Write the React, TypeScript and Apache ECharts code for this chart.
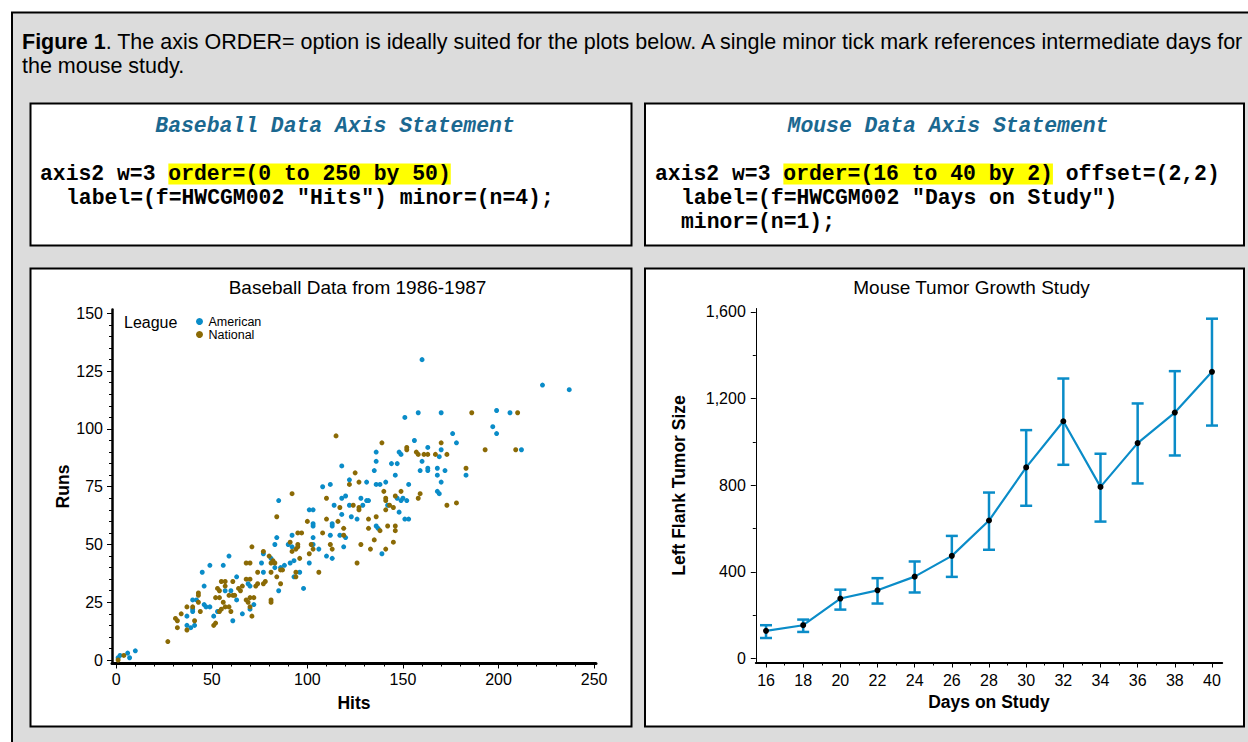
import React, { useEffect, useRef } from "react";
import * as echarts from "echarts";

// ---------- Baseball data (Hits, Runs) ----------
const americanLeague: [number, number][] = [
  [160,130],[223,119],[237,117],[151,105],[158,107],[170,107],[199,108],[206,107],[197,101],[199,98],
  [176,98],[178,94],[212,91],[156,95],[136,90],[148,90],[149,89],[163,92],[170,91],[169,88],
  [136,86],[144,85],[147,85],[160,86],[135,82],[159,82],[163,83],[163,82],[168,83],[172,82],
  [146,80],[168,80],[183,80],[136,76],[138,76],[141,77],[153,76],[170,77],[168,73],[169,72],
  [150,70],[147,70],
  [85,69],[108,75],[112,76],[118,84],[122,78],[131,77],[101,65],[103,65],[114,67],[118,70],
  [120,71],[122,67],[128,70],[129,67],[131,69],[132,69],[118,63],[123,62],[126,61],[103,59],
  [103,58],[113,59],[113,58],[84,53],[83,50],[92,54],[90,50],[92,49],[103,53],[106,48],
  [112,54],[117,54],[120,53],[119,49],[103,50],[110,45],[113,44],[101,42],[91,42],[93,43],
  [86,40],[88,41],[83,40],[77,46],[76,42],[81,44],[77,38],[96,38],[136,58],[137,57],
  [148,64],[151,61],[153,61],[142,67],[149,69],[152,69],[139,46],
  [1,1],[2,2],[6,3],[7,1],[10,4],[59,45],[49,41],[56,41],[45,38],[46,32],
  [63,36],[40,26],[42,26],[46,24],[47,23],[49,23],[40,21],[40,22],[37,19],[51,19],
  [37,15],[39,14],[41,15],[53,21],[57,30],[60,30],[63,26],[61,17],[66,20],[70,22],
  [72,24],[70,32],[69,33],[93,36],[98,31],[85,30],
];

const nationalLeague: [number, number][] = [
  [139,94],[152,92],[152,91],[157,90],[158,89],[161,89],[163,89],[167,89],[170,94],[173,89],
  [186,107],[210,107],[193,91],[209,91],[183,83],[140,73],[146,71],[149,73],[159,72],[141,70],
  [158,70],
  [115,97],[92,72],[125,81],[122,76],[127,77],[110,70],[84,62],[117,66],[124,67],[127,66],
  [127,65],[110,61],[116,60],[100,60],[132,61],[136,62],[132,57],[119,57],[108,55],[119,54],
  [95,55],[97,55],[91,51],[95,50],[94,48],[95,49],[92,47],[96,44],[102,50],[103,48],
  [101,46],[112,50],[113,48],[128,50],[133,48],[135,52],[138,56],[142,58],[146,58],[146,56],
  [145,51],[141,48],[126,42],[106,38],[77,47],[80,45],[82,43],[81,42],[83,42],[86,39],
  [87,39],[71,49],[74,38],[81,38],[94,38],[143,67],[145,66],[141,65],[141,69],[173,67],
  [178,68],
  [1,0],[4,2],[27,8],[31,18],[32,17],[32,14],[37,13],[34,20],[37,23],[40,23],
  [41,17],[43,29],[43,28],[43,25],[44,21],[51,15],[52,16],[54,21],[55,22],[52,27],
  [54,27],[56,25],[57,23],[53,31],[54,30],[55,34],[57,34],[61,34],[59,28],[59,23],
  [64,31],[65,30],[66,32],[61,28],[62,28],[68,26],[70,27],[72,27],[69,25],[70,23],
  [71,19],[60,21],[57,32],[68,35],[70,35],[73,32],[74,33],[77,33],[78,34],[81,26],
  [81,25],[86,33],[94,36],[68,42],[70,42],[84,36],
];

const hitsTicks = [0, 50, 100, 150, 200, 250];
const hitsMinorTicks = [10,20,30,40,60,70,80,90,110,120,130,140,160,170,180,190,210,220,230,240];
const runsTicks = [0, 25, 50, 75, 100, 125, 150];
const runsMinorTicks = [5,10,15,20,30,35,40,45,55,60,65,70,80,85,90,95,105,110,115,120,130,135,140,145];

// ---------- Mouse tumor data ----------
const studyDays = [16, 18, 20, 22, 24, 26, 28, 30, 32, 34, 36, 38, 40];
const tumorMean = [128, 154, 277, 315, 378, 474, 637, 882, 1095, 792, 994, 1135, 1323];
const tumorLower = [95, 123, 226, 254, 305, 377, 502, 705, 894, 632, 808, 937, 1075];
const tumorUpper = [154, 180, 318, 371, 448, 566, 766, 1054, 1292, 945, 1177, 1326, 1568];

const dayTicks = [16, 18, 20, 22, 24, 26, 28, 30, 32, 34, 36, 38, 40];
const dayMinorTicks = [17, 19, 21, 23, 25, 27, 29, 31, 33, 35, 37, 39];
const sizeTicks = [0, 400, 800, 1200, 1600];
const sizeMinorTicks = [200, 600, 1000, 1400];

const BLUE = "#0a8cc8";
const BROWN = "#8b6a05";
const SANS = "'Liberation Sans', Arial, Helvetica, sans-serif";
const MONO = "'Liberation Mono', 'Courier New', monospace";
const CODE_SIZE = 21.4;
const CAPTION_SIZE = 21.5;
const TEAL = "#1b6890";

function codeLine(x: number, y: number, parts: { t: string; hl?: boolean }[]) {
  const text = parts.map((p) => (p.hl ? `{h|${p.t}}` : `{n|${p.t}}`)).join("");
  const base = { fontFamily: MONO, fontSize: CODE_SIZE, fontWeight: "bold", fill: "#000", lineHeight: 22 };
  return {
    type: "text",
    x,
    y,
    z: 5,
    style: {
      text,
      ...base,
      verticalAlign: "middle",
      rich: {
        n: { ...base },
        h: { ...base, backgroundColor: "#ffff00" },
      },
    },
  };
}

function rectBox(x: number, y: number, w: number, h: number, fill: string) {
  return {
    type: "rect",
    z: -1,
    shape: { x, y, width: w, height: h },
    style: { fill, stroke: "#000", lineWidth: 2 },
  };
}

export default function App() {
  const ref = useRef<HTMLDivElement>(null);

  useEffect(() => {
    if (!ref.current) return;
    const chart = echarts.init(ref.current, undefined, { renderer: "svg" });

    const axisLabelStyle = { fontFamily: SANS, fontSize: 16, color: "#000" };
    const nameStyle = { fontFamily: SANS, fontSize: 17.5, fontWeight: "bold", color: "#000" };

    const option: any = {
      animation: false,
      backgroundColor: "#fff",
      title: [
        {
          text: "Baseball Data from 1986-1987",
          left: 357.5,
          top: 278,
          textAlign: "center",
          padding: 0,
          textStyle: { fontFamily: SANS, fontSize: 19, fontWeight: "normal", color: "#000" },
        },
        {
          text: "Mouse Tumor Growth Study",
          left: 971.5,
          top: 278,
          textAlign: "center",
          padding: 0,
          textStyle: { fontFamily: SANS, fontSize: 19, fontWeight: "normal", color: "#000" },
        },
      ],
      legend: {
        data: ["American", "National"],
        orient: "vertical",
        left: 196,
        top: 315,
        padding: 0,
        itemGap: 0,
        itemWidth: 8,
        itemHeight: 7,
        itemTextGap: 3,
        icon: "circle",
        selectedMode: false,
        textStyle: { fontFamily: SANS, fontSize: 12.5, lineHeight: 12, color: "#000" },
      },
      grid: [
        { left: 112, top: 309.5, width: 484, height: 354, containLabel: false },
        { left: 755.8, top: 308.5, width: 466.4, height: 354, containLabel: false },
      ],
      xAxis: [
        {
          gridIndex: 0,
          type: "value",
          position: "bottom",
          min: -2.2,
          max: 251,
          name: "Hits",
          nameLocation: "middle",
          nameGap: 30.5,
          nameTextStyle: nameStyle,
          axisLine: { onZero: false, lineStyle: { color: "#000", width: 3 } },
          axisTick: { customValues: hitsTicks, length: 5, lineStyle: { color: "#000", width: 1 } },
          axisLabel: { customValues: hitsTicks, margin: 8, ...axisLabelStyle },
          splitLine: { show: false },
        },
        {
          gridIndex: 0,
          type: "value",
          position: "bottom",
          min: -2.2,
          max: 251,
          axisLine: { show: false, onZero: false },
          axisTick: { customValues: hitsMinorTicks, length: 3, lineStyle: { color: "#000", width: 1 } },
          axisLabel: { show: false },
          splitLine: { show: false },
        },
        {
          gridIndex: 1,
          type: "value",
          position: "bottom",
          min: 15.45,
          max: 40.55,
          name: "Days on Study",
          nameLocation: "middle",
          nameGap: 30.5,
          nameTextStyle: nameStyle,
          axisLine: { onZero: false, lineStyle: { color: "#000", width: 2 } },
          axisTick: { customValues: dayTicks, length: 5, lineStyle: { color: "#000", width: 1 } },
          axisLabel: { customValues: dayTicks, margin: 10, ...axisLabelStyle },
          splitLine: { show: false },
        },
        {
          gridIndex: 1,
          type: "value",
          position: "bottom",
          min: 15.45,
          max: 40.55,
          axisLine: { show: false, onZero: false },
          axisTick: { customValues: dayMinorTicks, length: 3, lineStyle: { color: "#000", width: 1 } },
          axisLabel: { show: false },
          splitLine: { show: false },
        },
      ],
      yAxis: [
        {
          gridIndex: 0,
          type: "value",
          position: "left",
          min: -1.5,
          max: 151.7,
          name: "Runs",
          nameLocation: "middle",
          nameGap: 39,
          nameRotate: 90,
          nameTextStyle: nameStyle,
          axisLine: { show: true, onZero: false, lineStyle: { color: "#000", width: 2.5 } },
          axisTick: { show: true, customValues: runsTicks, length: 5, lineStyle: { color: "#000", width: 1 } },
          axisLabel: { customValues: runsTicks, margin: 9, ...axisLabelStyle },
          splitLine: { show: false },
        },
        {
          gridIndex: 0,
          type: "value",
          position: "left",
          min: -1.5,
          max: 151.7,
          axisLine: { show: false, onZero: false },
          axisTick: { show: true, customValues: runsMinorTicks, length: 3, lineStyle: { color: "#000", width: 1 } },
          axisLabel: { show: false },
          splitLine: { show: false },
        },
        {
          gridIndex: 1,
          type: "value",
          position: "left",
          min: -18,
          max: 1615,
          name: "Left Flank Tumor Size",
          nameLocation: "middle",
          nameGap: 68,
          nameRotate: 90,
          nameTextStyle: nameStyle,
          axisLine: { show: true, onZero: false, lineStyle: { color: "#000", width: 1 } },
          axisTick: { show: true, customValues: sizeTicks, length: 5, lineStyle: { color: "#000", width: 1 } },
          axisLabel: {
            customValues: sizeTicks,
            margin: 10,
            ...axisLabelStyle,
            formatter: (v: number) => v.toLocaleString("en-US"),
          },
          splitLine: { show: false },
        },
        {
          gridIndex: 1,
          type: "value",
          position: "left",
          min: -18,
          max: 1615,
          axisLine: { show: false, onZero: false },
          axisTick: { show: true, customValues: sizeMinorTicks, length: 3, lineStyle: { color: "#000", width: 1 } },
          axisLabel: { show: false },
          splitLine: { show: false },
        },
      ],
      series: [
        {
          name: "American",
          type: "scatter",
          xAxisIndex: 0,
          yAxisIndex: 0,
          symbol: "circle",
          symbolSize: 5,
          itemStyle: { color: BLUE, opacity: 1 },
          data: americanLeague,
        },
        {
          name: "National",
          type: "scatter",
          xAxisIndex: 0,
          yAxisIndex: 0,
          symbol: "circle",
          symbolSize: 5,
          itemStyle: { color: BROWN, opacity: 1 },
          data: nationalLeague,
        },
        {
          name: "Tumor range",
          type: "custom",
          xAxisIndex: 2,
          yAxisIndex: 2,
          z: 2,
          encode: { x: 0, y: [1, 2] },
          data: studyDays.map((d, i) => [d, tumorLower[i], tumorUpper[i]]),
          renderItem: (_params: any, api: any) => {
            const x = api.value(0);
            const lo = api.coord([x, api.value(1)]);
            const hi = api.coord([x, api.value(2)]);
            const hw = 6;
            const style = { stroke: BLUE, lineWidth: 2.5, fill: "none" };
            return {
              type: "group",
              children: [
                { type: "line", shape: { x1: lo[0], y1: lo[1], x2: hi[0], y2: hi[1] }, style },
                { type: "line", shape: { x1: lo[0] - hw, y1: lo[1], x2: lo[0] + hw, y2: lo[1] }, style },
                { type: "line", shape: { x1: hi[0] - hw, y1: hi[1], x2: hi[0] + hw, y2: hi[1] }, style },
              ],
            };
          },
        },
        {
          name: "Mean tumor size",
          type: "line",
          xAxisIndex: 2,
          yAxisIndex: 2,
          z: 3,
          symbol: "circle",
          symbolSize: 6,
          showSymbol: true,
          lineStyle: { color: BLUE, width: 2.2 },
          itemStyle: { color: "#000", borderWidth: 0 },
          data: studyDays.map((d, i) => [d, tumorMean[i]]),
        },
      ],
      graphic: [
        // outer grey frame
        {
          type: "rect",
          z: -2,
          shape: { x: 12, y: 12.5, width: 1300, height: 800 },
          style: { fill: "#dcdcdc", stroke: "#000", lineWidth: 2 },
        },
        rectBox(30.5, 103.5, 601, 142, "#fff"),
        rectBox(645, 103.5, 599, 142, "#fff"),
        rectBox(30.5, 268.5, 601, 458, "#fff"),
        rectBox(645, 268.5, 599, 458, "#fff"),
        {
          type: "text",
          x: 22,
          y: 42,
          z: 5,
          style: {
            text:
              "{b|Figure 1}{n|. The axis ORDER= option is ideally suited for the plots below. A single minor tick mark references intermediate days for}",
            fontFamily: SANS,
            fontSize: CAPTION_SIZE,
            fill: "#000",
            verticalAlign: "middle",
            rich: {
              b: { fontFamily: SANS, fontSize: CAPTION_SIZE, fontWeight: "bold", fill: "#000" },
              n: { fontFamily: SANS, fontSize: CAPTION_SIZE, fontWeight: "normal", fill: "#000" },
            },
          },
        },
        {
          type: "text",
          x: 22,
          y: 66,
          z: 5,
          style: {
            text: "the mouse study.",
            fontFamily: SANS,
            fontSize: CAPTION_SIZE,
            fill: "#000",
            verticalAlign: "middle",
          },
        },
        {
          type: "text",
          x: 335,
          y: 126,
          z: 5,
          style: {
            text: "Baseball Data Axis Statement",
            fontFamily: MONO,
            fontSize: CODE_SIZE,
            fontWeight: "bold",
            fontStyle: "italic",
            fill: TEAL,
            align: "center",
            verticalAlign: "middle",
          },
        },
        {
          type: "text",
          x: 948,
          y: 126,
          z: 5,
          style: {
            text: "Mouse Data Axis Statement",
            fontFamily: MONO,
            fontSize: CODE_SIZE,
            fontWeight: "bold",
            fontStyle: "italic",
            fill: TEAL,
            align: "center",
            verticalAlign: "middle",
          },
        },
        codeLine(40, 174, [{ t: "axis2 w=3 " }, { t: "order=(0 to 250 by 50)", hl: true }]),
        codeLine(66, 198, [{ t: 'label=(f=HWCGM002 "Hits") minor=(n=4);' }]),
        codeLine(655, 174, [
          { t: "axis2 w=3 " },
          { t: "order=(16 to 40 by 2)", hl: true },
          { t: " offset=(2,2)" },
        ]),
        codeLine(681, 198, [{ t: 'label=(f=HWCGM002 "Days on Study")' }]),
        codeLine(681, 222, [{ t: "minor=(n=1);" }]),
        {
          type: "text",
          x: 124,
          y: 322,
          z: 5,
          style: {
            text: "League",
            fontFamily: SANS,
            fontSize: 16,
            fill: "#000",
            verticalAlign: "middle",
          },
        },
      ],
    };

    chart.setOption(option);
    return () => chart.dispose();
  }, []);

  return (
    <div
      ref={ref}
      style={{ position: "absolute", left: 0, top: 0, width: 1248, height: 742 }}
    />
  );
}
